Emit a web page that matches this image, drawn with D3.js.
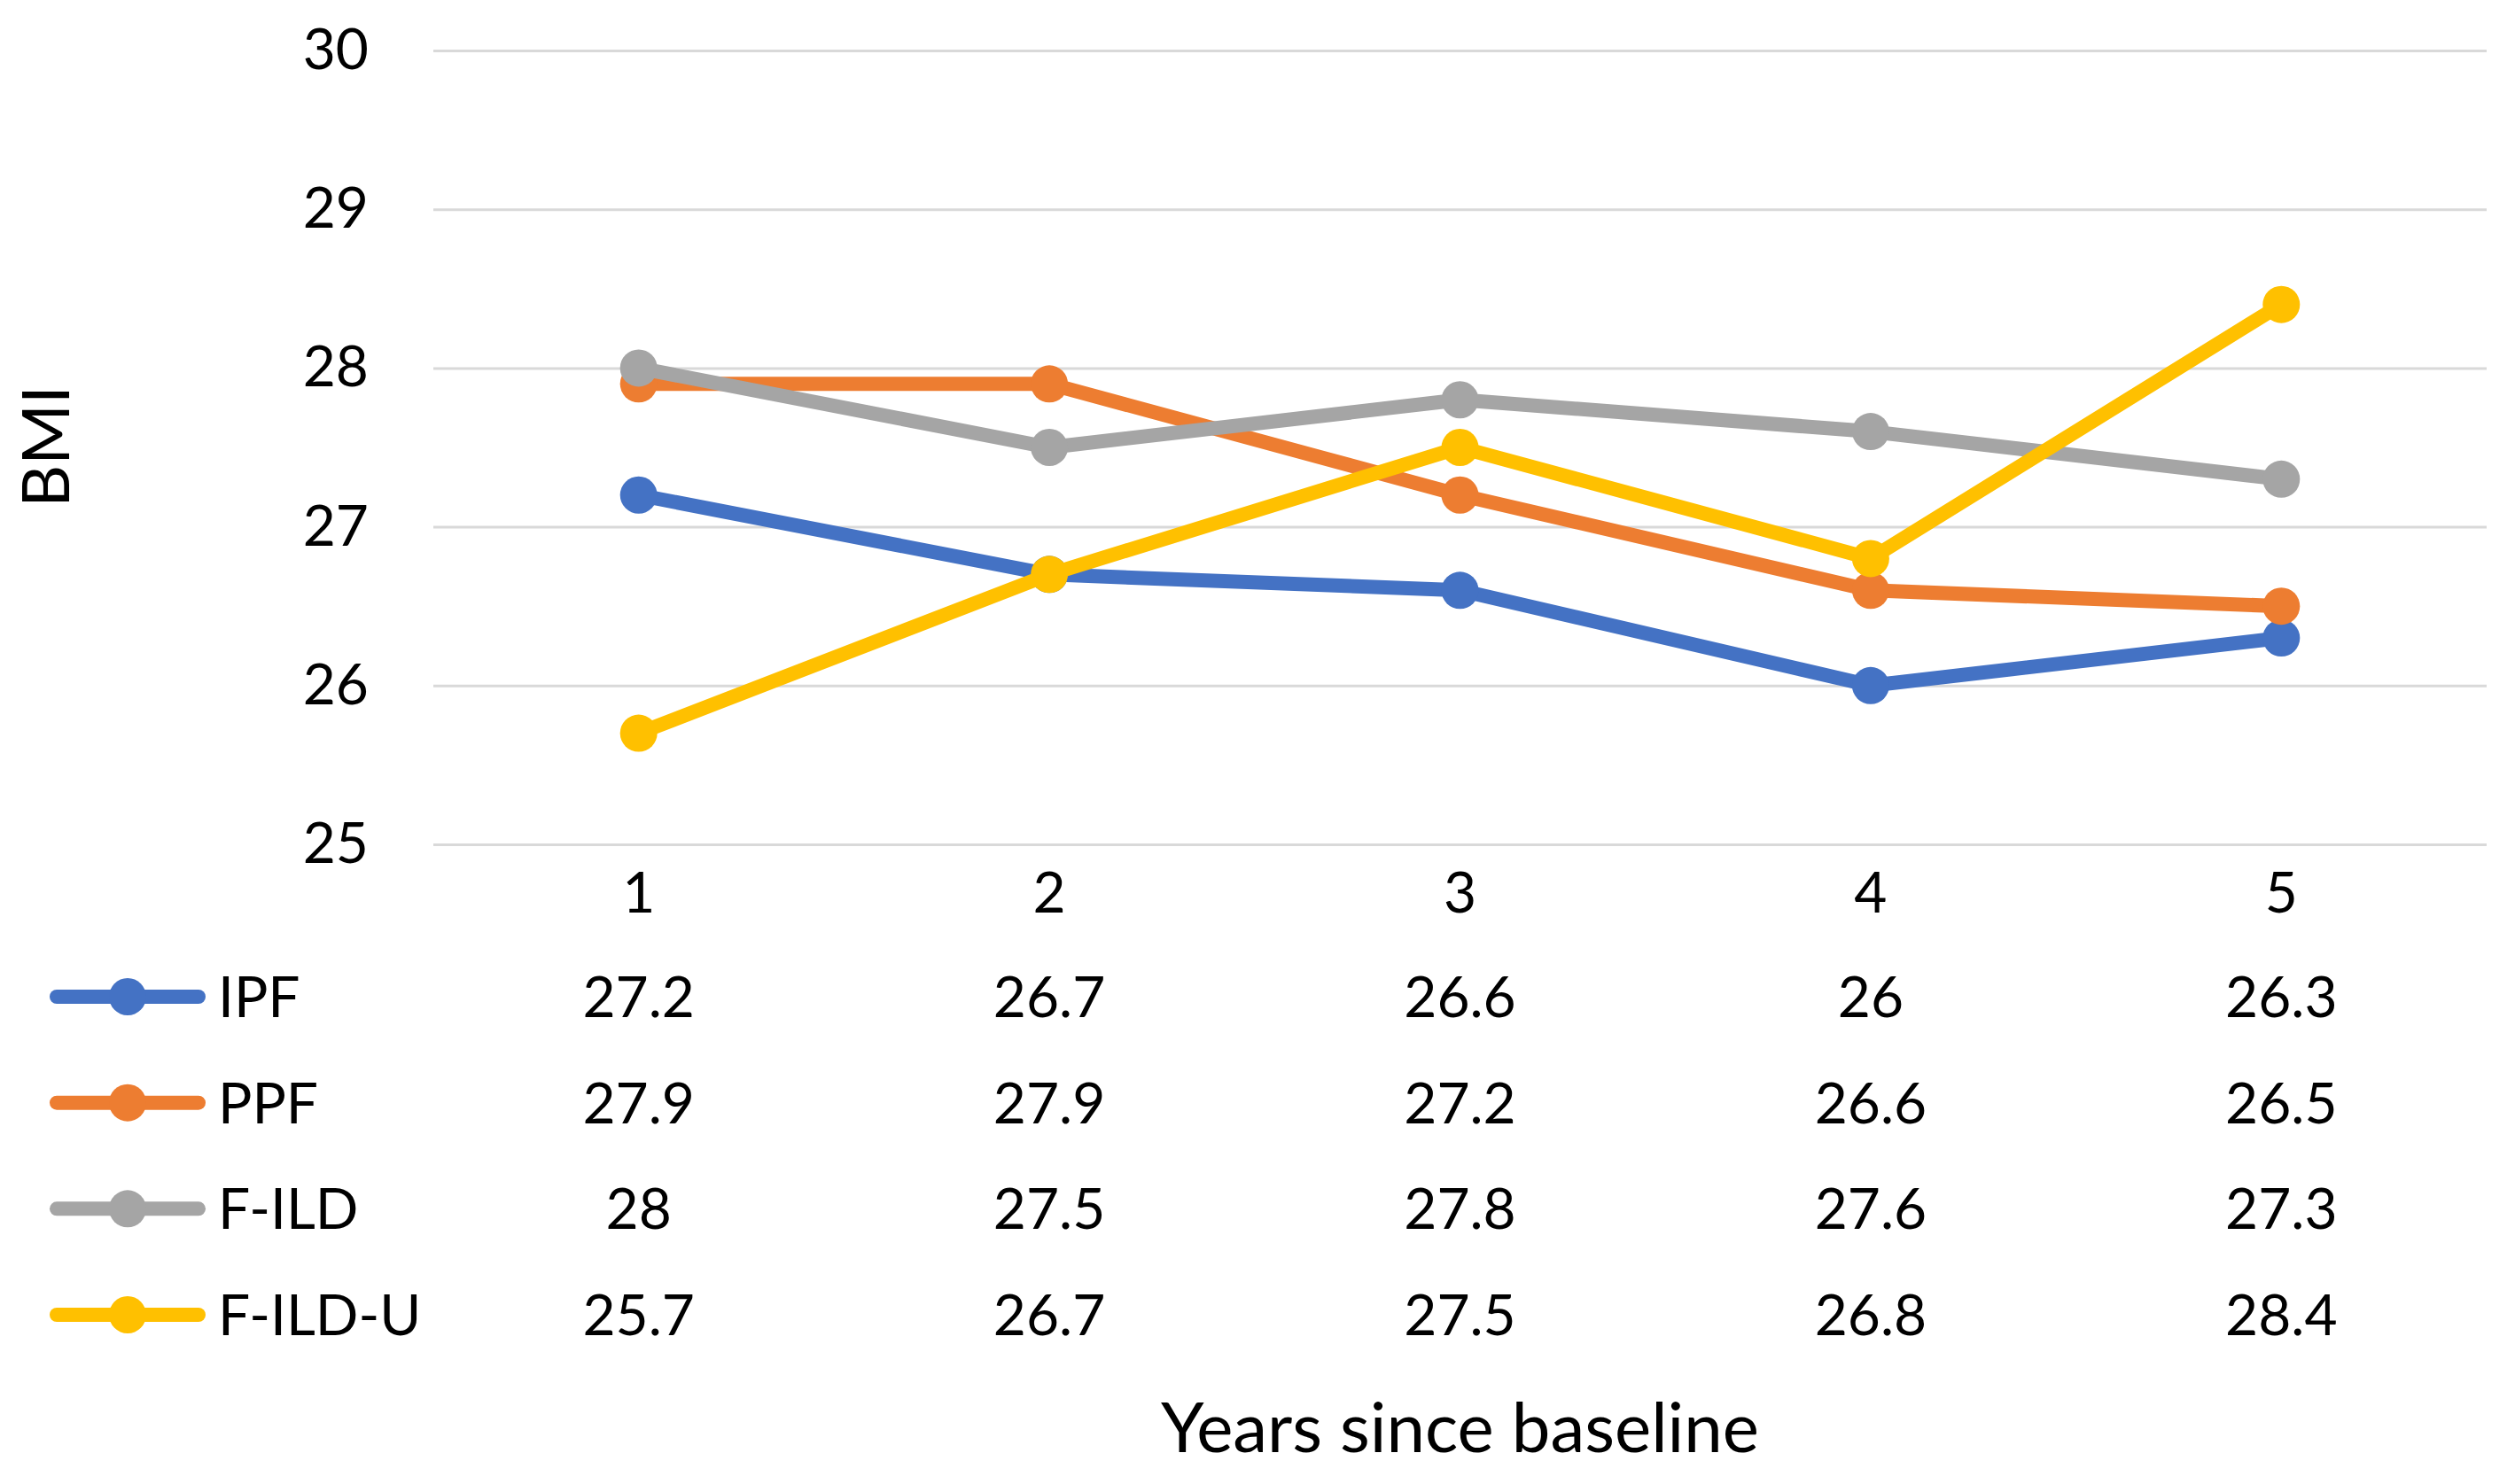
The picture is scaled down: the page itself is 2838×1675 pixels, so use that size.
<!DOCTYPE html>
<html>
<head>
<meta charset="utf-8">
<script src="https://cdn.jsdelivr.net/npm/d3@7"></script>
<style>
  html, body { margin: 0; padding: 0; background: #fff; }
  svg { display: block; }
  text { font-family: Lato, "Open Sans", sans-serif; fill: #000; }
</style>
</head>
<body>
<svg id="chart" width="2838" height="1675"></svg>
<script>
const years = ["1", "2", "3", "4", "5"];
const seriesNames = ["IPF", "PPF", "F-ILD", "F-ILD-U"];
const ipf = [27.2, 26.7, 26.6, 26, 26.3];
const ppf = [27.9, 27.9, 27.2, 26.6, 26.5];
const fild = [28, 27.5, 27.8, 27.6, 27.3];
const fildu = [25.7, 26.7, 27.5, 26.8, 28.4];
const yTicks = [25, 26, 27, 28, 29, 30];
const colors = ["#4472C4", "#ED7D31", "#A5A5A5", "#FFC000"];

const series = [ipf, ppf, fild, fildu].map((vals, i) => ({ name: seriesNames[i], values: vals, color: colors[i] }));

const svg = d3.select("#chart");
const plotL = 489, plotR = 2806, plotT = 57, plotB = 953;

const x = d3.scaleBand().domain(years).range([plotL, plotR]);
const cx = d => x(d) + x.bandwidth() / 2;
const y = d3.scaleLinear().domain([25, 30]).range([plotB, plotT]);

// Y axis with gridlines
const yAxis = d3.axisLeft(y).tickValues(yTicks).tickSizeInner(-(plotR - plotL)).tickSizeOuter(0).tickPadding(73).tickFormat(d3.format("d"));
const gy = svg.append("g").attr("transform", `translate(${plotL},0)`).call(yAxis);
gy.select(".domain").remove();
gy.selectAll(".tick line").attr("stroke", "#D9D9D9").attr("stroke-width", 3);
gy.selectAll(".tick text").attr("font-size", 64).attr("font-family", "Lato").attr("fill", "#000");

// X axis labels
const xAxis = d3.axisBottom(x).tickSize(0).tickPadding(32);
const gx = svg.append("g").attr("transform", `translate(0,${plotB})`).call(xAxis);
gx.select(".domain").remove();
gx.selectAll(".tick text").attr("font-size", 64).attr("font-family", "Lato").attr("fill", "#000");

// Lines
const line = d3.line().x((d, i) => cx(years[i])).y(d => y(d));
const gs = svg.append("g");
series.forEach(s => {
  gs.append("path").attr("d", line(s.values)).attr("fill", "none")
    .attr("stroke", s.color).attr("stroke-width", 16).attr("stroke-linejoin", "round");
  gs.selectAll(null).data(s.values).enter().append("circle")
    .attr("cx", (d, i) => cx(years[i])).attr("cy", d => y(d)).attr("r", 21).attr("fill", s.color);
});

// Data table (legend + values)
const rowY = d3.scalePoint().domain(seriesNames).range([1125, 1484]);
const gt = svg.append("g");
series.forEach(s => {
  const ry = rowY(s.name);
  gt.append("line").attr("x1", 64).attr("x2", 224).attr("y1", ry).attr("y2", ry)
    .attr("stroke", s.color).attr("stroke-width", 16).attr("stroke-linecap", "round");
  gt.append("circle").attr("cx", 144).attr("cy", ry).attr("r", 21).attr("fill", s.color);
  gt.append("text").attr("x", 246).attr("y", ry).attr("dy", "0.36em").attr("font-size", 64).text(s.name);
  gt.selectAll(null).data(s.values).enter().append("text")
    .attr("x", (d, i) => cx(years[i])).attr("y", ry).attr("dy", "0.36em")
    .attr("text-anchor", "middle").attr("font-size", 64).text(d => String(d));
});

// Axis titles
svg.append("text").attr("transform", "translate(78,504) rotate(-90)").attr("text-anchor", "middle")
  .attr("font-size", 74).text("BMI");
svg.append("text").attr("x", (plotL + plotR) / 2).attr("y", 1639).attr("text-anchor", "middle")
  .attr("font-size", 78).text("Years since baseline");
</script>
</body>
</html>
